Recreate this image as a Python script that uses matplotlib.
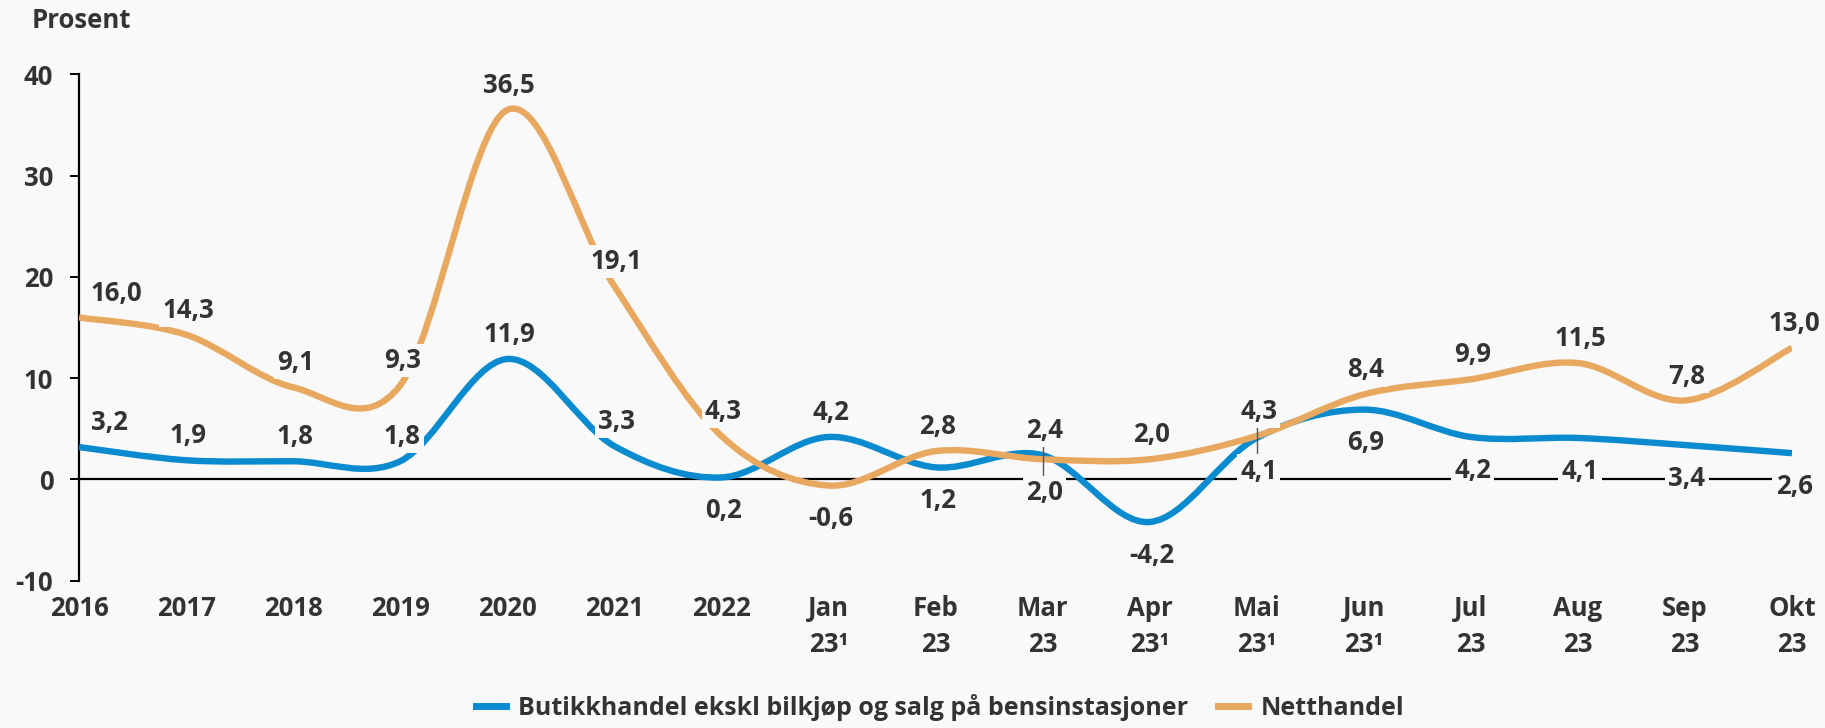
import matplotlib
matplotlib.use("Agg")
import matplotlib.pyplot as plt
from matplotlib.path import Path
from matplotlib.patches import PathPatch
from matplotlib.lines import Line2D

# ── Data ─────────────────────────────────────────────────────────────────────
categories = ["2016", "2017", "2018", "2019", "2020", "2021", "2022",
              "Jan\n23¹", "Feb\n23", "Mar\n23", "Apr\n23¹", "Mai\n23¹",
              "Jun\n23¹", "Jul\n23", "Aug\n23", "Sep\n23", "Okt\n23"]
butikk = [3.2, 1.9, 1.8, 1.8, 11.9, 3.3, 0.2, 4.2, 1.2, 2.4, -4.2, 4.1,
          6.9, 4.2, 4.1, 3.4, 2.6]
nett = [16.0, 14.3, 9.1, 9.3, 36.5, 19.1, 4.3, -0.6, 2.8, 2.0, 2.0, 4.3,
        8.4, 9.9, 11.5, 7.8, 13.0]
# label placement: 1 = above the point, -1 = below
butikk_pos = [1, 1, 1, 1, 1, 1, -1, 1, -1, 1, -1, -1, -1, -1, -1, -1, -1]
nett_pos = [1, 1, 1, 1, 1, 1, 1, -1, 1, -1, 1, 1, 1, 1, 1, 1, 1]
leader_idx = [9, 11]  # Mar 23, Mai 23

series_names = ["Butikkhandel ekskl bilkjøp og salg på bensinstasjoner", "Netthandel"]
BLUE = "#0a8acf"
ORANGE = "#e8a860"
BG = "#f9f9f9"
TXT = "#333333"

plt.rcParams["font.family"] = ["Open Sans", "DejaVu Sans"]
plt.rcParams["font.weight"] = "bold"
plt.rcParams["axes.unicode_minus"] = False


def smooth_path(xs, ys):
    """Excel-style smoothed line as cubic Bezier segments."""
    n = len(xs)
    verts = [(xs[0], ys[0])]
    codes = [Path.MOVETO]
    for i in range(n - 1):
        x0, y0 = (xs[i - 1], ys[i - 1]) if i > 0 else (xs[i], ys[i])
        x3, y3 = (xs[i + 2], ys[i + 2]) if i + 2 < n else (xs[i + 1], ys[i + 1])
        c1 = (xs[i] + (xs[i + 1] - x0) / 6, ys[i] + (ys[i + 1] - y0) / 6)
        c2 = (xs[i + 1] - (x3 - xs[i]) / 6, ys[i + 1] - (y3 - ys[i]) / 6)
        verts += [c1, c2, (xs[i + 1], ys[i + 1])]
        codes += [Path.CURVE4] * 3
    return Path(verts, codes)


fig = plt.figure(figsize=(18.25, 7.28), dpi=100, facecolor=BG)
ax = fig.add_axes([0.0433, 0.2023, 0.9386, 0.6954])
ax.set_facecolor(BG)

x = list(range(len(categories)))
ax.axhline(0, color="black", lw=1.6, zorder=2)

for vals, col in [(butikk, BLUE), (nett, ORANGE)]:
    ax.add_patch(PathPatch(smooth_path(x, vals), fill=False, edgecolor=col,
                           lw=4.6, capstyle="butt", zorder=3))

# leader lines for labels that were moved
for i in leader_idx:
    lo = min(butikk[i], nett[i]) - 2
    hi = max(butikk[i], nett[i]) + 2
    ax.vlines(i, lo, hi, color="#555555", lw=1.0, zorder=4)

for vals, pos in [(butikk, butikk_pos), (nett, nett_pos)]:
    for i, (v, p) in enumerate(zip(vals, pos)):
        dy = 17.6 if p > 0 else -23.8
        dx = 8.6 if i == 0 else 1.5
        ax.annotate(f"{v:.1f}".replace(".", ","), (i, v),
                    xytext=(dx, dy), textcoords="offset points",
                    ha="left" if i == 0 else "center", va="center",
                    fontsize=18.5, color=TXT, fontweight="bold", zorder=6,
                    annotation_clip=False,
                    bbox=dict(boxstyle="square,pad=0.12", fc=BG, ec="none"))

ax.set_xlim(0, 16)
ax.set_ylim(-10, 40)
ax.set_yticks([-10, 0, 10, 20, 30, 40])
ax.set_xticks(x)
ax.set_xticklabels(categories, linespacing=1.4)
for s in ["top", "right", "bottom"]:
    ax.spines[s].set_visible(False)
ax.spines["left"].set_linewidth(1.6)
ax.tick_params(axis="y", length=6.5, width=1.4, pad=12, labelsize=18.5,
               labelcolor=TXT)
ax.tick_params(axis="x", length=0, pad=10.5, labelsize=18.5, labelcolor=TXT)

fig.text(0.0175, 0.972, "Prosent", fontsize=18.5, color=TXT,
         fontweight="bold", va="center", ha="left")

handles = [Line2D([], [], color=BLUE, lw=5), Line2D([], [], color=ORANGE, lw=5)]
fig.legend(handles, series_names, loc="center", ncol=2,
           bbox_to_anchor=(0.515, 0.028), frameon=False, fontsize=18,
           handlelength=1.2, handletextpad=0.5, columnspacing=1.2,
           labelcolor=TXT)

fig.savefig("out.png", dpi=100, facecolor=BG)
